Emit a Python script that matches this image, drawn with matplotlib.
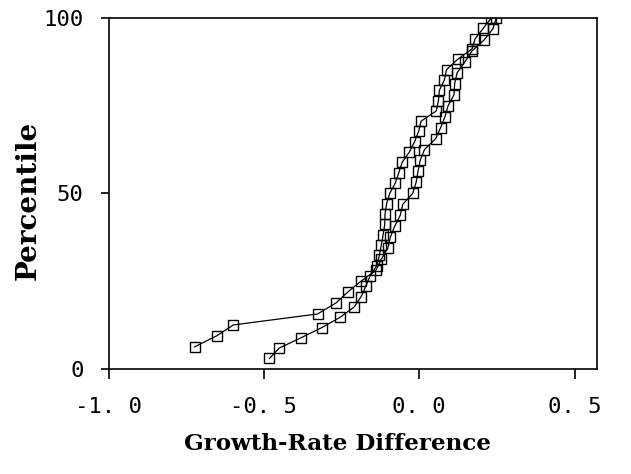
"""Percentile plot of growth-rate differences for two series."""

import matplotlib
matplotlib.use("Agg")
import matplotlib.pyplot as plt

# series with the long left tail
pct_a = [6.25, 9.38, 12.5, 15.63, 18.75, 21.88, 25.0, 28.13, 31.25, 34.38,
         37.5, 40.63, 43.75, 46.88, 50.0, 53.13, 56.25, 59.38, 62.5, 65.63,
         68.75, 71.88, 75.0, 78.13, 81.25, 84.38, 87.5, 90.63, 93.75, 96.88,
         100.0]
diff_a = [-0.723, -0.652, -0.598, -0.327, -0.268, -0.230, -0.187, -0.139, -0.122, -0.101,
          -0.093, -0.079, -0.061, -0.053, -0.021, -0.010, -0.004, 0.003, 0.017, 0.053,
          0.069, 0.083, 0.093, 0.112, 0.114, 0.122, 0.147, 0.170, 0.209, 0.237,
          0.248]

# series starting near -0.5
pct_b = [2.94, 5.88, 8.82, 11.76, 14.71, 17.65, 20.59, 23.53, 26.47, 29.41,
         32.35, 35.29, 38.24, 41.18, 44.12, 47.06, 50.0, 52.94, 55.88, 58.82,
         61.76, 64.71, 67.65, 70.59, 73.53, 76.47, 79.41, 82.35, 85.29, 88.24,
         91.18, 94.12, 97.06, 100.0]
diff_b = [-0.482, -0.451, -0.381, -0.313, -0.254, -0.209, -0.187, -0.172, -0.158, -0.137,
          -0.128, -0.122, -0.116, -0.111, -0.110, -0.105, -0.095, -0.077, -0.066, -0.055,
          -0.032, -0.015, -0.002, 0.006, 0.055, 0.062, 0.065, 0.081, 0.088, 0.124,
          0.170, 0.180, 0.206, 0.232]

x_ticks = [-1.0, -0.5, 0.0, 0.5]
x_tick_labels = ["-1. 0", "-0. 5", "0. 0", "0. 5"]
y_ticks = [0, 50, 100]
y_tick_labels = ["0", "50", "100"]

fig = plt.figure(figsize=(6.31, 4.74), dpi=100)
ax = fig.add_axes([0.172, 0.222, 0.774, 0.740])

for x, y in [(diff_a, pct_a), (diff_b, pct_b)]:
    ax.plot(x, y, color="black", lw=0.9, marker="s", ms=6.5,
            mfc="none", mec="black", mew=1.0)

ax.set_xlim(-1.0, 0.572)
ax.set_ylim(0, 100)
ax.set_xticks(x_ticks)
ax.set_xticklabels(x_tick_labels, family="DejaVu Sans Mono", fontsize=16)
ax.set_yticks(y_ticks)
ax.set_yticklabels(y_tick_labels, family="DejaVu Sans Mono", fontsize=16)
ax.tick_params(axis="x", direction="out", length=7, width=1.2, pad=13)
ax.tick_params(axis="y", direction="out", length=6, width=1.2, pad=12)
for side in ax.spines.values():
    side.set_linewidth(1.2)

ax.set_xlabel("Growth-Rate Difference", family="DejaVu Serif",
              fontweight="bold", fontsize=16.6)
ax.xaxis.set_label_coords(0.469, -0.183)
ax.set_ylabel("Percentile", family="DejaVu Serif",
              fontweight="bold", fontsize=20)
ax.yaxis.set_label_coords(-0.137, 0.48)

fig.savefig("out.png", dpi=100)
